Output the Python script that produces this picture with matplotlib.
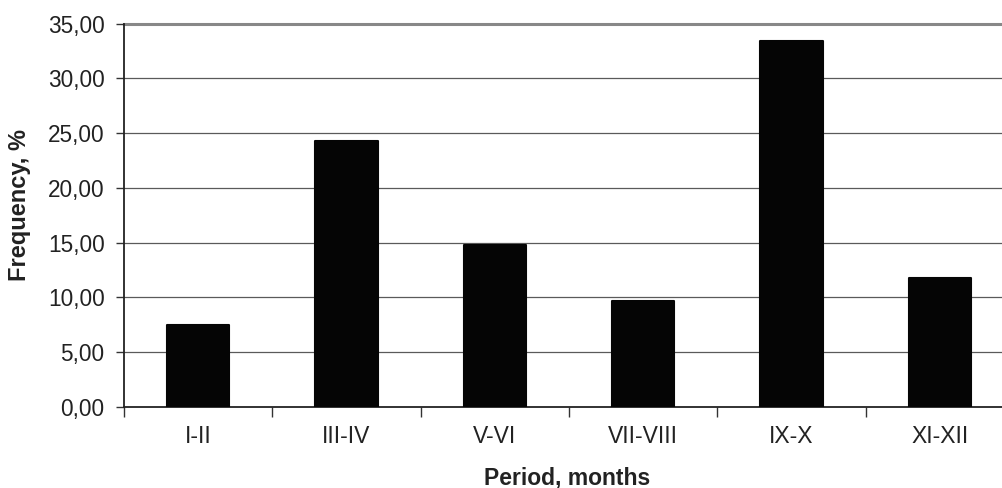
import matplotlib
matplotlib.use("Agg")
import matplotlib.pyplot as plt
import numpy as np
from matplotlib.ticker import FuncFormatter, MultipleLocator

categories = ["I-II", "III-IV", "V-VI", "VII-VIII", "IX-X", "XI-XII"]
frequency = [7.45, 24.25, 14.8, 9.65, 33.4, 11.75]

plt.rcParams['font.family'] = ['Liberation Sans', 'DejaVu Sans']

W, H = 1002, 488
fig = plt.figure(figsize=(W / 100, H / 100), dpi=100)
left, right = 124 / W, 1014 / W
bottom, top = (H - 406.7) / H, (H - 23.7) / H
ax = fig.add_axes([left, bottom, right - left, top - bottom])

x = np.arange(len(categories))
ax.bar(x, frequency, width=0.42, color="#050505", edgecolor="#050505",
       linewidth=1.5, joinstyle="round", zorder=3)

ax.set_xlim(-0.5, len(categories) - 0.5)
ax.set_ylim(0, 35)
ax.yaxis.set_major_locator(MultipleLocator(5))
ax.yaxis.set_major_formatter(FuncFormatter(lambda v, p: f"{v:.2f}".replace(".", ",")))

for v in np.arange(5, 35, 5):
    ax.axhline(v, color="#5a5a5a", linewidth=0.9, zorder=1)
ax.axhline(35, color="#888888", linewidth=2.2, zorder=1, clip_on=False)

ax.set_xticks(x)
ax.set_xticklabels(categories, fontsize=16.5)
ax.set_xticks(np.arange(-0.5, len(categories), 1.0), minor=True)
ax.tick_params(axis="x", which="major", length=0, pad=13, colors="#222222")
ax.tick_params(axis="x", which="minor", length=7, width=1, color="#333333")
ax.tick_params(axis="y", length=6, width=1, color="#333333", labelsize=16.3,
               labelcolor="#222222", pad=8)

for s in ["top", "right"]:
    ax.spines[s].set_visible(False)
ax.spines["left"].set_linewidth(1.3)
ax.spines["bottom"].set_linewidth(1.3)
ax.spines["left"].set_color("#222222")
ax.spines["bottom"].set_color("#222222")

fig.text(20 / W, 1 - 205 / H, "Frequency, %", rotation=90, fontsize=17,
         fontweight="bold", ha="center", va="center", color="#222222")
fig.text(567 / W, 1 - 478 / H, "Period, months", fontsize=16.5,
         fontweight="bold", ha="center", va="center", color="#222222")

fig.savefig("out.png", dpi=100)
